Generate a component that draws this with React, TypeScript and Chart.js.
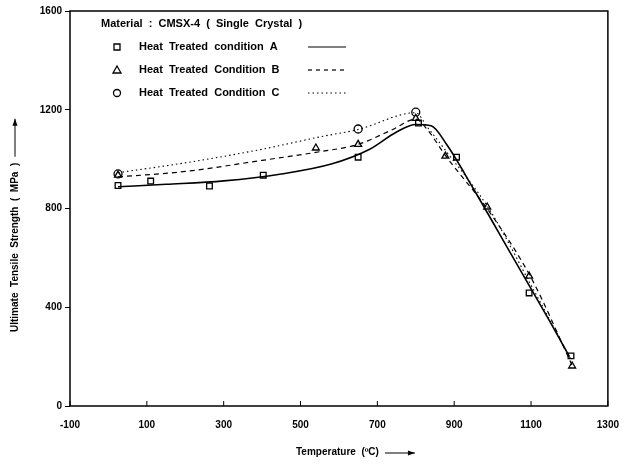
import React, { useEffect, useRef } from "react";
import { Chart, registerables } from "chart.js";

Chart.register(...registerables);

// Measured points
const tempA = [25, 110, 263, 403, 650, 807, 906, 1095, 1204];
const strengthA = [893, 911, 891, 935, 1008, 1146, 1008, 458, 203];
const tempB = [25, 540, 650, 800, 877, 986, 1095, 1207];
const strengthB = [935, 1045, 1060, 1165, 1012, 806, 526, 162];
const tempC = [25, 650, 800];
const strengthC = [940, 1122, 1190];

// Fitted curves
const curveTempA = [25, 150, 300, 450, 580, 680, 750, 800, 840, 880, 950, 1050, 1150, 1200];
const curveStrengthA = [888, 898, 912, 940, 980, 1040, 1110, 1140, 1135, 1060, 880, 610, 340, 200];
const curveTempB = [25, 200, 400, 550, 650, 740, 800, 830, 877, 990, 1100, 1207];
const curveStrengthB = [928, 950, 995, 1030, 1060, 1120, 1162, 1120, 1015, 790, 520, 165];
const curveTempC = [25, 200, 400, 550, 650, 800, 830, 880, 990, 1100, 1205];
const curveStrengthC = [945, 985, 1040, 1090, 1120, 1188, 1130, 1030, 800, 490, 185];

const xTicks = [-100, 100, 300, 500, 700, 900, 1100, 1300];
const yTicks = [0, 400, 800, 1200, 1600];

const legendTitle = "Material  :  CMSX-4  (  Single  Crystal  )";
const legendLabels = [
  "Heat  Treated  condition  A",
  "Heat  Treated  Condition  B",
  "Heat  Treated  Condition  C",
];
const xTitle = "Temperature  (ºC)";
const yTitle = "Ultimate  Tensile  Strength  (  MPa  )";

const FONT = "'Liberation Sans', Arial, sans-serif";

const zip = (xs: number[], ys: number[]) => xs.map((x, i) => ({ x, y: ys[i] }));

function drawMarker(ctx: CanvasRenderingContext2D, kind: string, x: number, y: number) {
  ctx.save();
  ctx.fillStyle = "#fff";
  ctx.strokeStyle = "#000";
  ctx.lineWidth = 1.3;
  ctx.beginPath();
  if (kind === "rect") {
    ctx.rect(x - 3, y - 3, 6, 6);
  } else if (kind === "triangle") {
    ctx.moveTo(x, y - 4);
    ctx.lineTo(x + 4, y + 3);
    ctx.lineTo(x - 4, y + 3);
    ctx.closePath();
  } else {
    ctx.arc(x, y, 3.5, 0, Math.PI * 2);
  }
  ctx.fill();
  ctx.stroke();
  ctx.restore();
}

function drawArrow(ctx: CanvasRenderingContext2D, x1: number, y1: number, x2: number, y2: number) {
  const ang = Math.atan2(y2 - y1, x2 - x1);
  ctx.save();
  ctx.strokeStyle = "#000";
  ctx.fillStyle = "#000";
  ctx.lineWidth = 1;
  ctx.beginPath();
  ctx.moveTo(x1, y1);
  ctx.lineTo(x2, y2);
  ctx.stroke();
  ctx.beginPath();
  ctx.moveTo(x2, y2);
  ctx.lineTo(x2 - 7 * Math.cos(ang) + 2.5 * Math.sin(ang), y2 - 7 * Math.sin(ang) - 2.5 * Math.cos(ang));
  ctx.lineTo(x2 - 7 * Math.cos(ang) - 2.5 * Math.sin(ang), y2 - 7 * Math.sin(ang) + 2.5 * Math.cos(ang));
  ctx.closePath();
  ctx.fill();
  ctx.restore();
}

const decorPlugin = {
  id: "decor",
  afterDraw(chart: any) {
    const ctx: CanvasRenderingContext2D = chart.ctx;
    const a = chart.chartArea;
    const xs = chart.scales.x;
    ctx.save();
    // frame
    ctx.strokeStyle = "#000";
    ctx.lineWidth = 1.5;
    ctx.strokeRect(a.left, a.top, a.right - a.left, a.bottom - a.top);
    // inward x ticks
    ctx.lineWidth = 1;
    xTicks.forEach((t) => {
      const px = xs.getPixelForValue(t);
      ctx.beginPath();
      ctx.moveTo(px, a.bottom);
      ctx.lineTo(px, a.bottom - 5);
      ctx.stroke();
    });
    // legend
    ctx.fillStyle = "#000";
    ctx.font = `bold 11px ${FONT}`;
    ctx.textBaseline = "middle";
    ctx.textAlign = "left";
    ctx.fillText(legendTitle, 101, 24);
    const rows = [47, 70, 93];
    const kinds = ["rect", "triangle", "circle"];
    const dashes = [[], [4, 4], [1.5, 3]];
    rows.forEach((ry, i) => {
      drawMarker(ctx, kinds[i], 117, ry);
      ctx.fillStyle = "#000";
      ctx.font = `bold 11px ${FONT}`;
      ctx.fillText(legendLabels[i], 139, ry);
      ctx.save();
      ctx.setLineDash(dashes[i]);
      ctx.lineWidth = 1.2;
      ctx.beginPath();
      ctx.moveTo(308, ry);
      ctx.lineTo(346, ry);
      ctx.stroke();
      ctx.restore();
    });
    // x title
    ctx.font = `bold 10px ${FONT}`;
    ctx.textAlign = "left";
    const tw = ctx.measureText(xTitle).width;
    ctx.fillText(xTitle, 296, 452);
    drawArrow(ctx, 296 + tw + 6, 453, 296 + tw + 36, 453);
    // y title
    ctx.save();
    ctx.translate(15, 332);
    ctx.rotate(-Math.PI / 2);
    ctx.textAlign = "left";
    ctx.fillText(yTitle, 0, 0);
    const w = ctx.measureText(yTitle).width;
    ctx.restore();
    drawArrow(ctx, 15, 332 - w - 6, 15, 332 - w - 44);
    ctx.restore();
  },
};

export default function App() {
  const ref = useRef<HTMLCanvasElement>(null);
  useEffect(() => {
    document.body.style.margin = "0";
    const lineDs = (xs: number[], ys: number[], dash: number[], width: number) => ({
      data: zip(xs, ys),
      showLine: true,
      borderColor: "#000",
      borderWidth: width,
      borderDash: dash,
      pointRadius: 0,
      cubicInterpolationMode: "monotone" as const,
      fill: false,
    });
    const pointDs = (xs: number[], ys: number[], style: string) => ({
      data: zip(xs, ys),
      showLine: false,
      pointStyle: style,
      pointRadius: 4,
      pointBorderWidth: 1.3,
      pointBorderColor: "#000",
      pointBackgroundColor: "#fff",
      borderColor: "#000",
      backgroundColor: "#fff",
    });
    const chart = new Chart(ref.current!, {
      type: "scatter",
      data: {
        datasets: [
          lineDs(curveTempC, curveStrengthC, [1.5, 3], 1.1),
          lineDs(curveTempB, curveStrengthB, [5, 4], 1.2),
          lineDs(curveTempA, curveStrengthA, [], 1.6),
          pointDs(tempA, strengthA, "rect"),
          pointDs(tempB, strengthB, "triangle"),
          pointDs(tempC, strengthC, "circle"),
        ] as any,
      },
      options: {
        animation: false,
        responsive: false,
        layout: { padding: { top: 11, right: 14, left: 0, bottom: 0 } },
        plugins: { legend: { display: false }, tooltip: { enabled: false } },
        scales: {
          x: {
            type: "linear",
            min: -100,
            max: 1300,
            afterBuildTicks: (s: any) => {
              s.ticks = xTicks.map((v) => ({ value: v }));
            },
            afterFit: (s: any) => {
              s.height = 58;
            },
            grid: { display: false },
            border: { display: false },
            ticks: {
              color: "#000",
              font: { family: FONT, size: 10, weight: "bold" },
              padding: 5,
              maxRotation: 0,
              autoSkip: false,
              callback: (v: any) => String(v),
            },
          },
          y: {
            type: "linear",
            min: 0,
            max: 1600,
            afterBuildTicks: (s: any) => {
              s.ticks = yTicks.map((v) => ({ value: v }));
            },
            afterFit: (s: any) => {
              s.width = 70;
            },
            grid: { display: true, drawOnChartArea: false, tickLength: 5, color: "#000", lineWidth: 1 },
            border: { display: false },
            ticks: {
              color: "#000",
              font: { family: FONT, size: 10, weight: "bold" },
              padding: 3,
              callback: (v: any) => String(v),
            },
          },
        },
      },
      plugins: [decorPlugin],
    });
    return () => chart.destroy();
  }, []);
  return (
    <div style={{ position: "fixed", left: 0, top: 0, width: 624, height: 464, background: "#fff" }}>
      <canvas ref={ref} width={624} height={464} />
    </div>
  );
}
